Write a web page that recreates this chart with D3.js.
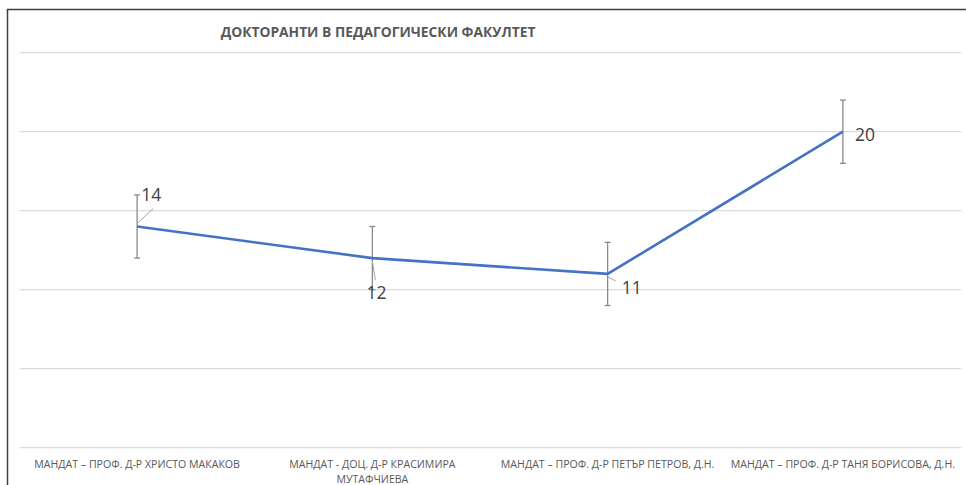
<!DOCTYPE html>
<html>
<head>
<meta charset="utf-8">
<script src="https://cdn.jsdelivr.net/npm/d3@7/dist/d3.min.js"></script>
<style>
  html, body { margin: 0; padding: 0; background: #fff; }
  svg { display: block; }
</style>
</head>
<body>
<svg id="chart" width="966" height="485"></svg>
<script>
const title = "ДОКТОРАНТИ В ПЕДАГОГИЧЕСКИ ФАКУЛТЕТ";
const categories = [
  ["МАНДАТ – ПРОФ. Д-Р ХРИСТО МАКАКОВ"],
  ["МАНДАТ - ДОЦ. Д-Р КРАСИМИРА", "МУТАФЧИЕВА"],
  ["МАНДАТ – ПРОФ. Д-Р ПЕТЪР ПЕТРОВ, Д.Н."],
  ["МАНДАТ – ПРОФ. Д-Р ТАНЯ БОРИСОВА, Д.Н."]
];
const values = [14, 12, 11, 20];
const errors = [2, 2, 2, 2];
const yTicks = [0, 5, 10, 15, 20, 25];

// label placement (style only): dx, dy relative to point, leader line end
const labelLayout = [
  { dx: 4, dy: -26, leader: [16, -18] },
  { dx: -6, dy: 41, leader: [3, 22] },
  { dx: 14, dy: 20, leader: [8, 7] },
  { dx: 12, dy: 9, leader: null }
];

const svg = d3.select("#chart");
const plot = { left: 19.5, right: 960.5, top: 52.7, bottom: 447.7 };

// frame
svg.append("path")
  .attr("d", "M7.5,490 L7.5,9.5 L970,9.5")
  .attr("fill", "none").attr("stroke", "#3f3f3f").attr("stroke-width", 1.5);

const x = d3.scaleBand().domain(d3.range(categories.length))
  .range([plot.left, plot.right]);
const y = d3.scaleLinear().domain([0, 25]).range([plot.bottom, plot.top]);

// gridlines
svg.append("g").selectAll("line").data(yTicks).join("line")
  .attr("x1", plot.left).attr("x2", plot.right + 1)
  .attr("y1", d => y(d)).attr("y2", d => y(d))
  .attr("stroke", "#dcdcdc").attr("stroke-width", 1.3);

// title
svg.append("text")
  .attr("x", 378).attr("y", 37)
  .attr("text-anchor", "middle")
  .attr("font-family", "Open Sans, sans-serif")
  .attr("font-weight", "bold")
  .attr("font-size", 13.8)
  .attr("fill", "#595959")
  .text(title);

// x labels (one text element per line)
const cx = i => x(i) + x.bandwidth() / 2;
const xl = svg.append("g")
  .attr("text-anchor", "middle")
  .attr("font-family", "Open Sans, sans-serif")
  .attr("font-size", 10.6)
  .attr("fill", "#595959");
categories.forEach((lines, i) => {
  lines.forEach((ln, j) => {
    xl.append("text")
      .attr("x", cx(i))
      .attr("y", 468 + j * 14.5)
      .text(ln);
  });
});

// error bars
const eb = svg.append("g").attr("stroke", "#8a8a8a").attr("stroke-width", 1.3);
values.forEach((v, i) => {
  const y1 = y(v + errors[i]), y2 = y(v - errors[i]);
  eb.append("line").attr("x1", cx(i)).attr("x2", cx(i)).attr("y1", y1).attr("y2", y2);
  eb.append("line").attr("x1", cx(i) - 3).attr("x2", cx(i) + 3).attr("y1", y1).attr("y2", y1);
  eb.append("line").attr("x1", cx(i) - 3).attr("x2", cx(i) + 3).attr("y1", y2).attr("y2", y2);
});

// leader lines
values.forEach((v, i) => {
  const L = labelLayout[i];
  if (!L.leader) return;
  svg.append("line")
    .attr("x1", cx(i) + (i === 0 ? 1 : 0)).attr("y1", y(v) - (i === 0 ? 4 : -3))
    .attr("x2", cx(i) + L.leader[0]).attr("y2", y(v) + L.leader[1])
    .attr("stroke", "#a6a6a6").attr("stroke-width", 1);
});

// line
const line = d3.line().x((d, i) => cx(i)).y(d => y(d));
svg.append("path").datum(values)
  .attr("d", line)
  .attr("fill", "none")
  .attr("stroke", "#4472C4")
  .attr("stroke-width", 2.6)
  .attr("stroke-linejoin", "round");

// data labels
values.forEach((v, i) => {
  const L = labelLayout[i];
  svg.append("text")
    .attr("x", cx(i) + L.dx).attr("y", y(v) + L.dy)
    .attr("font-family", "Open Sans, sans-serif")
    .attr("font-size", 17.5)
    .attr("fill", "#404040")
    .text(v);
});
</script>
</body>
</html>
